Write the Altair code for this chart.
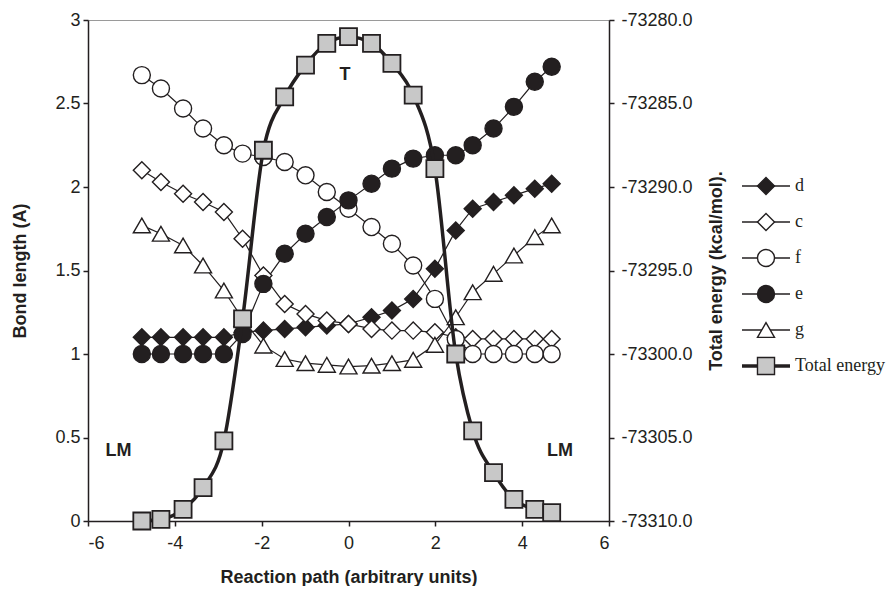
import altair as alt
import pandas as pd

# ---- data ----
x_path = [-4.76, -4.32, -3.81, -3.35, -2.87, -2.44, -1.96, -1.47, -0.99, -0.50, 0.0,
          0.53, 1.00, 1.49, 1.99, 2.47, 2.86, 3.34, 3.81, 4.29, 4.68]
bond_d = [1.10, 1.10, 1.10, 1.10, 1.10, 1.13, 1.14, 1.15, 1.16, 1.17, 1.18,
          1.22, 1.26, 1.33, 1.51, 1.74, 1.87, 1.91, 1.95, 1.99, 2.02]
bond_c = [2.10, 2.03, 1.96, 1.91, 1.85, 1.69, 1.47, 1.30, 1.24, 1.20, 1.18,
          1.15, 1.14, 1.14, 1.13, 1.10, 1.09, 1.09, 1.09, 1.09, 1.09]
bond_f = [2.67, 2.59, 2.47, 2.35, 2.25, 2.20, 2.18, 2.15, 2.07, 1.97, 1.87,
          1.76, 1.66, 1.53, 1.33, 1.09, 1.00, 1.00, 1.00, 1.00, 1.00]
bond_e = [1.00, 1.00, 1.00, 1.00, 1.00, 1.12, 1.42, 1.60, 1.72, 1.82, 1.92,
          2.02, 2.11, 2.17, 2.19, 2.19, 2.25, 2.35, 2.48, 2.63, 2.72]
bond_g = [1.77, 1.72, 1.65, 1.53, 1.38, 1.21, 1.05, 0.97, 0.945, 0.935, 0.925,
          0.93, 0.945, 0.965, 1.055, 1.22, 1.37, 1.48, 1.59, 1.70, 1.77]
total_energy = [-73310.0, -73309.9, -73309.3, -73308.0, -73305.2, -73297.9, -73287.8,
                -73284.6, -73282.7, -73281.4, -73281.0, -73281.4, -73282.6, -73284.5,
                -73288.9, -73300.0, -73304.6, -73307.1, -73308.7, -73309.3, -73309.5]

series_names = ["d", "c", "f", "e", "g"]
series_values = [bond_d, bond_c, bond_f, bond_e, bond_g]
legend_labels = ["d", "c", "f", "e", "g", "Total energy"]

ann_labels = ["LM", "LM", "T"]
ann_x = [-5.3, 4.87, -0.08]
ann_y = [0.42, 0.42, 2.67]

x_ticks = [-6, -4, -2, 0, 2, 4, 6]
bond_ticks = [0, 0.5, 1, 1.5, 2, 2.5, 3]
energy_ticks = [-73310, -73305, -73300, -73295, -73290, -73285, -73280]

# ---- styles ----
INK = "#231f20"
marker_shapes = ["diamond", "diamond", "circle", "circle", "triangle-up", "square"]
marker_fills = [INK, "white", "white", INK, "white", "#c8c8c8"]
marker_sizes = [290, 290, 320, 320, 290, 280]

bond_df = pd.DataFrame(
    [{"x": xv, "value": v, "series": s}
     for s, vals in zip(series_names, series_values)
     for xv, v in zip(x_path, vals)]
)
energy_df = pd.DataFrame({"x": x_path, "energy": total_energy, "series": "Total energy"})
ann_df = pd.DataFrame({"label": ann_labels, "x": ann_x, "y": ann_y})
leg_df = pd.DataFrame({"label": legend_labels})

MINUS_FIX = "replace(datum.label, '\u2212', '-')"

shape_scale = alt.Scale(domain=legend_labels, range=marker_shapes)
fill_scale = alt.Scale(domain=legend_labels, range=marker_fills)
size_scale = alt.Scale(domain=legend_labels, range=marker_sizes)

W, H = 521, 501

x_enc = alt.X(
    "x:Q",
    scale=alt.Scale(domain=[-6, 6], nice=False, zero=False),
    axis=alt.Axis(
        values=x_ticks, title="Reaction path (arbitrary units)", labelExpr=MINUS_FIX,
        labelPadding=8, titleX=W / 2, titleY=56, titleBaseline="middle", titleAlign="center",
    ),
)

bond_y = alt.Y(
    "value:Q",
    scale=alt.Scale(domain=[0, 3], nice=False, zero=False),
    axis=alt.Axis(
        values=bond_ticks, labelExpr="datum.value + ''", title="Bond length (A)",
        labelPadding=3, titleAngle=270, titleX=-68, titleY=H / 2,
        titleBaseline="middle", titleAlign="center",
    ),
)

bond_lines = alt.Chart(bond_df).mark_line(color=INK, strokeWidth=1.2).encode(
    x=x_enc, y=bond_y, detail="series:N"
)
bond_points = alt.Chart(bond_df).mark_point(
    filled=True, stroke=INK, strokeWidth=1.4, opacity=1
).encode(
    x=x_enc, y=bond_y,
    shape=alt.Shape("series:N", scale=shape_scale, legend=None),
    fill=alt.Fill("series:N", scale=fill_scale, legend=None),
    size=alt.Size("series:N", scale=size_scale, legend=None),
)
ann = alt.Chart(ann_df).mark_text(
    font="Liberation Sans", fontWeight="bold", fontSize=18, color=INK
).encode(x=alt.X("x:Q"), y=alt.Y("y:Q"), text="label:N")

bond_group = alt.layer(bond_lines, bond_points, ann)

e_y = alt.Y(
    "energy:Q",
    scale=alt.Scale(domain=[-73310, -73280], nice=False, zero=False),
    axis=alt.Axis(
        orient="right", values=energy_ticks, format=".1f", labelExpr=MINUS_FIX,
        labelPadding=7, title="Total energy (kcal/mol).", titleAngle=270,
        titleX=107, titleY=H / 2, titleBaseline="middle", titleAlign="center",
    ),
)
e_line = alt.Chart(energy_df).mark_line(
    color=INK, strokeWidth=3.5, interpolate="monotone"
).encode(x=x_enc, y=e_y)
e_points = alt.Chart(energy_df).mark_point(
    filled=True, stroke=INK, strokeWidth=1.8, opacity=1
).encode(
    x=x_enc, y=e_y,
    shape=alt.Shape("series:N", scale=shape_scale, legend=None),
    fill=alt.Fill("series:N", scale=fill_scale, legend=None),
    size=alt.Size("series:N", scale=size_scale, legend=None),
)
energy_group = alt.layer(e_line, e_points)

leg_y = alt.Y(
    "label:N",
    scale=alt.Scale(type="point", domain=legend_labels, range=[166, 346], padding=0),
    axis=None,
)
leg_rule_thin = alt.Chart(leg_df).transform_filter(
    "datum.label != 'Total energy'"
).mark_rule(color=INK, strokeWidth=1.3).encode(
    x=alt.value(654), x2=alt.value(702), y=leg_y
)
leg_rule_thick = alt.Chart(leg_df).transform_filter(
    "datum.label == 'Total energy'"
).mark_rule(color=INK, strokeWidth=3.5).encode(
    x=alt.value(654), x2=alt.value(702), y=leg_y
)
leg_points = alt.Chart(leg_df).mark_point(
    filled=True, stroke=INK, strokeWidth=1.4, opacity=1
).encode(
    x=alt.value(678), y=leg_y,
    shape=alt.Shape("label:N", scale=shape_scale, legend=None),
    fill=alt.Fill("label:N", scale=fill_scale, legend=None),
    size=alt.Size("label:N", scale=size_scale, legend=None),
)
leg_text = alt.Chart(leg_df).mark_text(
    align="left", baseline="middle", font="Liberation Serif", fontSize=18, color=INK
).encode(x=alt.value(707), y=leg_y, text="label:N")
legend_group = alt.layer(leg_rule_thin, leg_rule_thick, leg_points, leg_text)

chart = alt.layer(bond_group, energy_group, legend_group).resolve_scale(
    y="independent"
).properties(
    width=W, height=H,
    autosize=alt.AutoSizeParams(type="none"),
    padding={"left": 80, "top": 12, "right": 279, "bottom": 65},
).configure_view(
    stroke="#9a9a9a", strokeWidth=1
).configure_axis(
    labelFont="Liberation Sans", titleFont="Liberation Sans",
    labelFontSize=18, titleFontSize=18, titleFontWeight="bold",
    labelColor=INK, titleColor=INK, domainColor=INK, tickColor=INK,
    grid=False, domainWidth=1.5, tickWidth=1.5, tickSize=5,
)

chart.save("out.html", embed_options={"renderer": "svg", "actions": False})
